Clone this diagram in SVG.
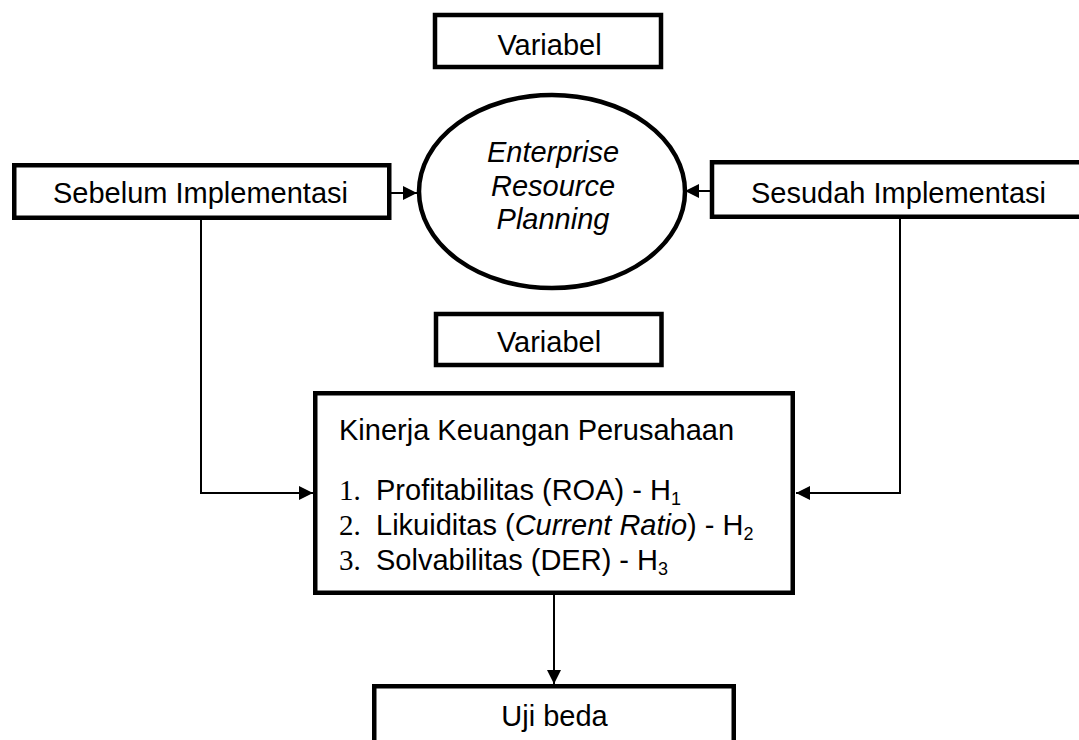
<svg xmlns="http://www.w3.org/2000/svg" width="1079" height="740" viewBox="0 0 1079 740">
<style>
.box{fill:#fff;stroke:#000;stroke-width:4.5}
.ln{fill:none;stroke:#000;stroke-width:2}
.t{font-family:"Liberation Sans",Arial,sans-serif;font-size:29px;fill:#000}
.c{text-anchor:middle}
.i{font-style:italic}
.n{font-family:"Liberation Serif","Times New Roman",serif}
.sub{font-size:18px}
</style>
<defs>
<marker id="ah" markerUnits="userSpaceOnUse" markerWidth="16" markerHeight="14" refX="14" refY="7" orient="auto">
<path d="M0,0 L14,7 L0,14 Z" fill="#000"/>
</marker>
</defs>
<rect width="1079" height="740" fill="#fff"/>
<g id="connectors">
<line class="ln" x1="391" y1="193" x2="417" y2="193" marker-end="url(#ah)"/>
<line class="ln" x1="710" y1="191" x2="685" y2="191" marker-end="url(#ah)"/>
<polyline class="ln" points="201,220 201,493 313,493" marker-end="url(#ah)"/>
<polyline class="ln" points="900,219 900,493 796,493" marker-end="url(#ah)"/>
<line class="ln" x1="554" y1="595" x2="554" y2="684" marker-end="url(#ah)"/>
</g>
<g id="variabel-top">
<rect class="box" x="435" y="15" width="226" height="52"/>
<text class="t c" x="549.5" y="55">Variabel</text>
</g>
<g id="erp">
<ellipse class="box" cx="552" cy="191.5" rx="133" ry="96.5"/>
<text class="t c i" x="553" y="162">Enterprise</text>
<text class="t c i" x="553" y="195.5">Resource</text>
<text class="t c i" x="553" y="229">Planning</text>
</g>
<g id="sebelum">
<rect class="box" x="14.25" y="165.25" width="375" height="52.5"/>
<text class="t" x="53" y="203">Sebelum Implementasi</text>
</g>
<g id="sesudah">
<rect class="box" x="712" y="162.25" width="400" height="54.5"/>
<text class="t" x="751" y="202.5">Sesudah Implementasi</text>
</g>
<g id="variabel-mid">
<rect class="box" x="436" y="314" width="225.5" height="51"/>
<text class="t c" x="549" y="352">Variabel</text>
</g>
<g id="kinerja">
<rect class="box" x="315.25" y="393.25" width="477.5" height="199.5"/>
<text class="t" x="339" y="440">Kinerja Keuangan Perusahaan</text>
<text class="t n" x="339" y="499.5">1.</text>
<text class="t" x="376" y="499.5">Profitabilitas (ROA) - H<tspan class="sub" dy="5">1</tspan></text>
<text class="t n" x="339" y="534.5">2.</text>
<text class="t" x="376" y="534.5">Likuiditas (<tspan class="i">Current Ratio</tspan>) - H<tspan class="sub" dy="5">2</tspan></text>
<text class="t n" x="339" y="569.5">3.</text>
<text class="t" x="376" y="569.5">Solvabilitas (DER) - H<tspan class="sub" dy="5">3</tspan></text>
</g>
<g id="uji-beda">
<rect class="box" x="374.25" y="686.25" width="359.5" height="80"/>
<text class="t c" x="554.5" y="726">Uji beda</text>
</g>
</svg>
